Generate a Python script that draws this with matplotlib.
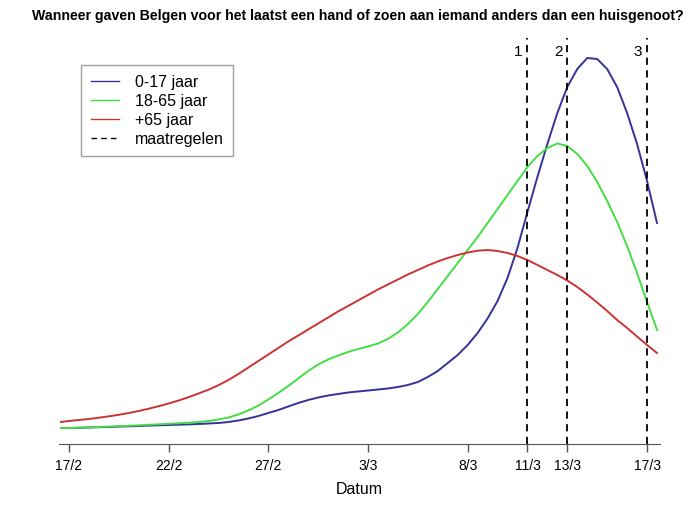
import matplotlib.pyplot as plt

# days since 17/2 (2020), half-day steps
days = [-0.4] + [i * 0.5 for i in range(60)]

# relative height of each curve (arbitrary units)
jong = [25, 25, 25.2, 25.5, 25.8, 26, 26.4, 26.7, 27, 27.4, 27.7,
        28, 28.3, 28.6, 29, 29.5, 30, 31, 32.5, 34.5, 37,
        40, 43, 46.5, 50, 53, 55.5, 57.5, 59, 60.5, 61.5,
        62.5, 63.5, 64.5, 66, 68, 71, 76, 82, 90, 98,
        108, 120, 134.5, 152, 175, 205, 241, 276, 309, 340,
        366, 384, 395, 394, 384, 366, 340, 309, 272, 230]
midden = [25, 25, 25.3, 25.6, 26, 26.4, 26.8, 27.2, 27.7, 28.2, 28.7,
          29.2, 29.7, 30.3, 31, 32, 33.5, 35.5, 38.5, 42.5, 47.5,
          53.5, 60, 67, 74.5, 82, 88.5, 93.5, 97.5, 101, 104,
          106.5, 109.5, 114, 120.5, 129, 139, 151, 164, 177, 190,
          203, 216, 230, 244, 258, 272, 286, 297, 305, 309.5,
          307, 299, 287, 271, 252, 231, 207, 180, 151, 123]
oud = [31, 32, 33, 34, 35.3, 36.7, 38.2, 40, 42, 44.3, 46.8,
       49.5, 52.5, 55.8, 59.5, 63.3, 67.8, 73, 79, 85.5, 92,
       98.5, 105, 111.5, 117.5, 123.5, 129.5, 135.5, 141.5, 147, 152.5,
       158, 163.5, 168.5, 173.5, 178.5, 183, 187.5, 191.5, 195, 198,
       200.5, 202.3, 203, 202, 200, 197, 193, 188, 183, 178,
       172.5, 166, 158.5, 150.5, 142, 133, 125, 116.5, 108, 100]

tick_days = [0, 5, 10, 15, 20, 23, 25, 29]
tick_labels = ['17/2', '22/2', '27/2', '3/3', '8/3', '11/3', '13/3', '17/3']
maatregel_days = [23, 25, 29]
maatregel_labels = ['1', '2', '3']

plt.rcParams['font.family'] = ['Liberation Sans', 'DejaVu Sans']

fig = plt.figure(figsize=(6.88, 5.13), dpi=100)
ax = fig.add_axes([59 / 688, 69 / 513, 601 / 688, 406 / 513])

ax.plot(days, jong, color='#333399', lw=1.4, label='0-17 jaar')
ax.plot(days, midden, color='#44dd44', lw=1.4, label='18-65 jaar')
ax.plot(days, oud, color='#cc3333', lw=1.4, label='+65 jaar')

for i, d in enumerate(maatregel_days):
    ax.axvline(d, color='black', lw=1.3, ls=(0, (4, 3)),
               label='maatregelen' if i == 0 else None)
    ax.text(d - 0.25, 401, maatregel_labels[i], ha='right', va='center', fontsize=11)

ax.set_xlim(-0.5, 29.65)
ax.set_ylim(9, 415)
ax.set_xticks(tick_days)
ax.set_xticklabels(tick_labels, fontsize=10)
ax.tick_params(axis='x', length=6, width=1, color='#555555', pad=5)
ax.set_yticks([])
for s in ['left', 'right', 'top']:
    ax.spines[s].set_visible(False)
ax.spines['bottom'].set_color('#555555')
ax.set_xlabel('Datum', fontsize=11.5, labelpad=6)

leg = ax.legend(loc='upper left', bbox_to_anchor=(22 / 601, 1 - 27 / 406),
                fontsize=11.5, frameon=True, fancybox=False, handlelength=1.8,
                borderpad=0.6, labelspacing=0.25, handletextpad=0.95,
                borderaxespad=0)
leg.get_frame().set_edgecolor('#888888')
leg.get_frame().set_linewidth(1.0)
for h in leg.get_lines():
    h.set_linewidth(1.0)

fig.text(358 / 688, 1 - 16 / 513, 'Wanneer gaven Belgen voor het laatst een hand of zoen aan iemand anders dan een huisgenoot?',
         ha='center', va='center', fontsize=10.2, fontweight='bold')

fig.savefig('out.png', dpi=100)
